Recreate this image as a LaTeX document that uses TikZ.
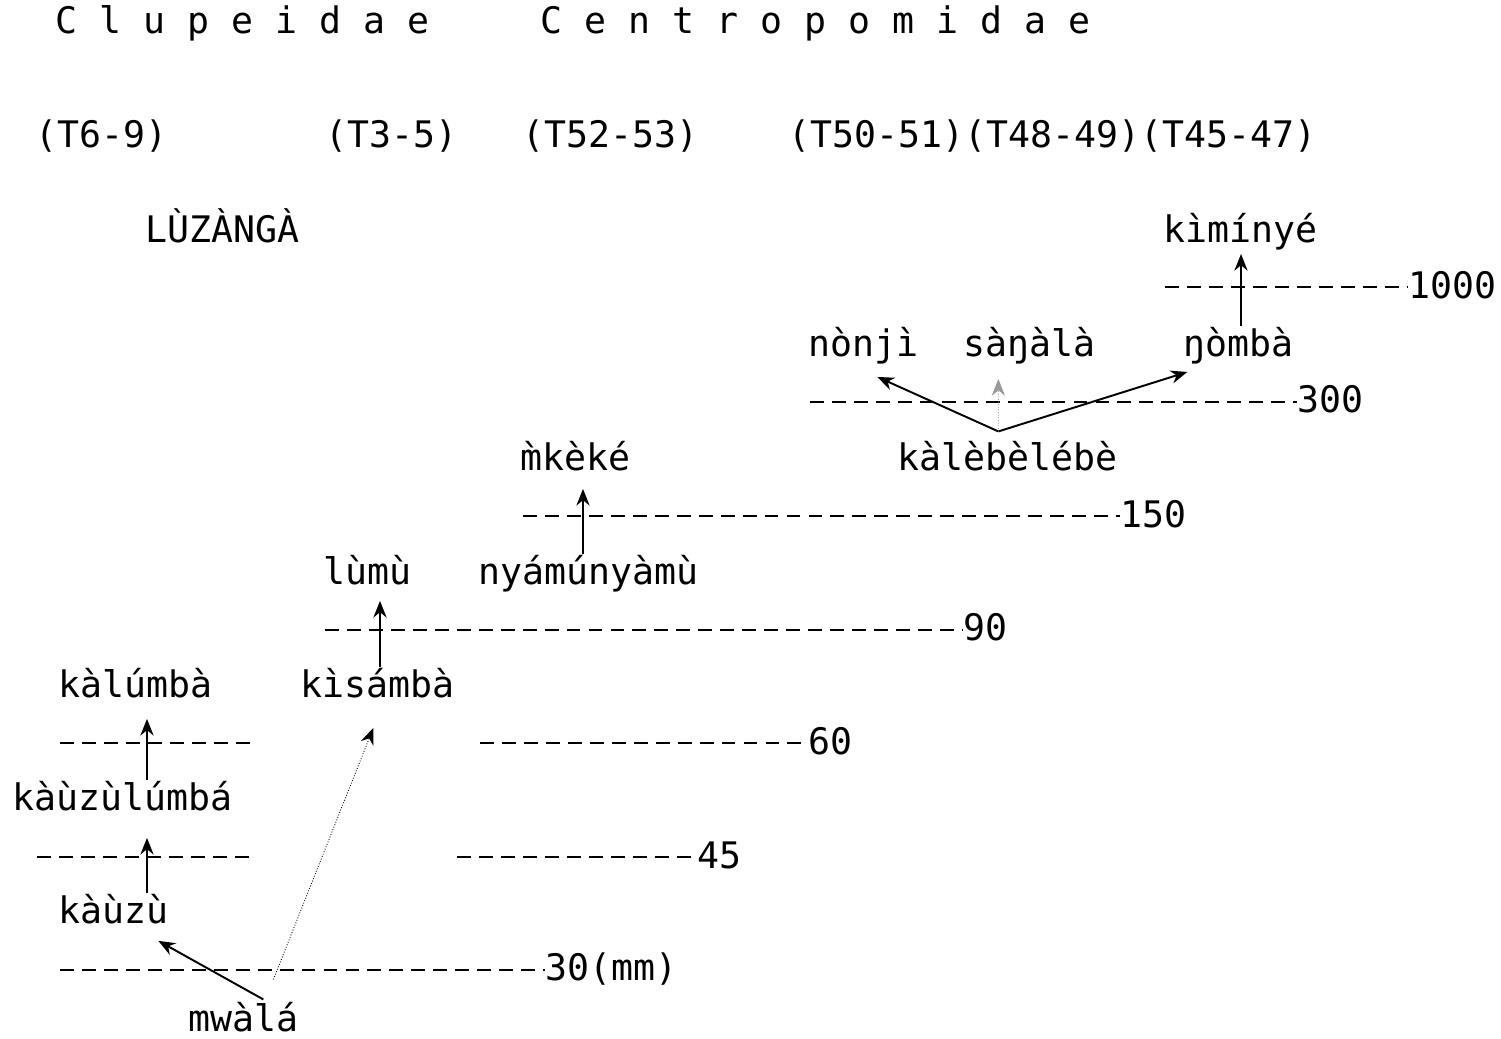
\documentclass[tikz,border=0pt]{standalone}
\usepackage{fontspec}
\setmainfont{DejaVu Sans Mono}
\usetikzlibrary{arrows.meta, calc}
\newcommand{\typefont}{\fontsize{20.8}{24}\selectfont}
\tikzset{
  word/.style={anchor=base west, inner sep=0pt, font=\typefont},
  level/.style={line width=1.1pt, dash pattern=on 7.9pt off 4.6pt},
  arr/.style={-{Stealth[length=9.5pt,width=7.5pt]}, line width=1.1pt},
  faint/.style={-{Stealth[length=9.5pt,width=7.5pt]}, line width=0.5pt, densely dotted}
}
\begin{document}
\begin{tikzpicture}[x=0.02cm, y=-0.02cm]
  \useasboundingbox (0,0) rectangle (1501,1038);
  % headings
  \node[word] (clup) at (55,33) {C l u p e i d a e};
  \node[word] (centro) at (540,33) {C e n t r o p o m i d a e};
  \node[word] (t69) at (35,147) {(T6-9)};
  \node[word] (t35) at (325,147) {(T3-5)};
  \node[word] (t5253) at (522,147) {(T52-53)};
  \node[word] (t4551) at (788,147) {(T50-51)(T48-49)(T45-47)};
  \node[word] (luzanga) at (145,242) {LÙZÀNGÀ};
  % names
  \node[word] (kiminye) at (1163,242) {kìmínyé};
  \node[word] (nonji) at (808,356) {nònjì};
  \node[word] (sangala) at (963,356) {sàŋàlà};
  \node[word] (ngomba) at (1183,356) {ŋòmbà};
  \node[word] (mkeke) at (520,470) {m̀kèké};
  \node[word] (kalebelebe) at (897,470) {kàlèbèlébè};
  \node[word] (lumu) at (323,584) {lùmù};
  \node[word] (nyamu) at (478,584) {nyámúnyàmù};
  \node[word] (kalumba) at (58,697) {kàlúmbà};
  \node[word] (kisamba) at (300,697) {kìsámbà};
  \node[word] (kauzulumba) at (12,810) {kàùzùlúmbá};
  \node[word] (kauzu) at (58,923) {kàùzù};
  \node[word] (mwala) at (188,1031) {mwàlá};
  % size levels
  \node[word] (s1000) at (1408,298) {1000};
  \node[word] (s300) at (1297,412) {300};
  \node[word] (s150) at (1120,527) {150};
  \node[word] (s90) at (963,640) {90};
  \node[word] (s60) at (808,754) {60};
  \node[word] (s45) at (697,868) {45};
  \node[word] (s30) at (545,980) {30(mm)};
  \coordinate (l1000) at (1165,287);
  \coordinate (l300) at (810,402);
  \coordinate (l150) at (523,516);
  \coordinate (l90) at (325,630);
  \coordinate (l60) at (480,743);
  \coordinate (l45) at (457,857);
  \coordinate (l30) at (60,970);
  \foreach \l/\s in {l1000/s1000, l300/s300, l150/s150, l90/s90, l60/s60, l45/s45, l30/s30}
    \draw[level] (\l) -- (\l -| \s.west);
  \draw[level] (60,743) -- (252,743);
  \draw[level] (37,857) -- (252,857);
  % growth arrows
  \coordinate (colA) at (147,0);
  \coordinate (colB) at (380,0);
  \coordinate (colC) at (583,0);
  \coordinate (colD) at (1241,0);
  \draw[arr, shorten >=0.54cm] (kauzu.north -| colA) -- (kauzulumba.south -| colA);
  \draw[arr, shorten >=0.42cm] (kauzulumba.north -| colA) -- (kalumba.south -| colA);
  \draw[arr, shorten >=0.32cm] (kisamba.north -| colB) -- (lumu.south -| colB);
  \draw[arr, shorten >=0.36cm] (nyamu.north -| colC) -- (mkeke.south -| colC);
  \draw[arr, shorten >=0.08cm] (ngomba.north -| colD) -- (kiminye.south -| colD);
  \draw[arr] ($(mwala.north)+(20,-2)$) -- ($(kauzu.south)+(45,17)$);
  \draw[faint] ($(mwala.north)+(30,-22)$) -- ($(kisamba.south)+(-4,30)$);
  \draw[arr] ($(kalebelebe.north)+(-9,-9)$) -- ($(nonji.south)+(14,13)$);
  \draw[arr] ($(kalebelebe.north)+(-9,-9)$) -- ($(ngomba.south)+(-51,8)$);
  \draw[faint, draw=black!40] ($(kalebelebe.north)+(-9,-9)$) -- ($(sangala.south)+(-31,15)$);
\end{tikzpicture}
\end{document}
